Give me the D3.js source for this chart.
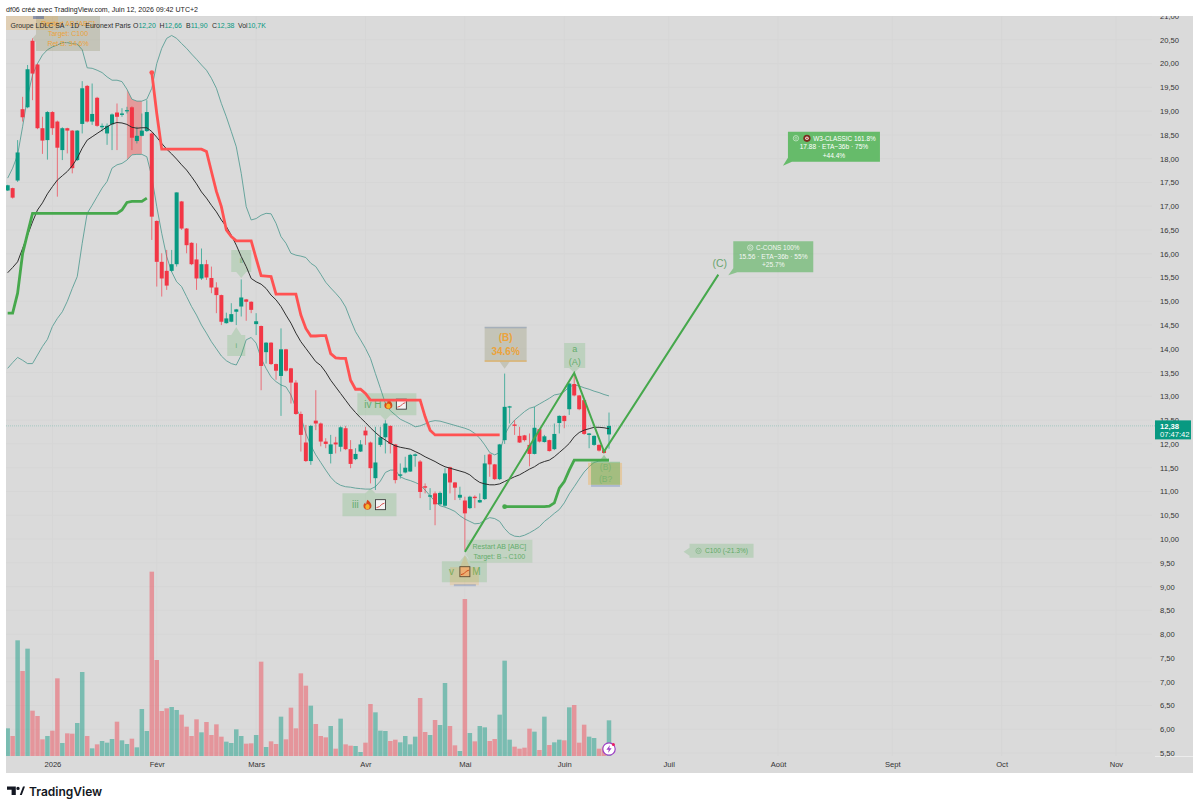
<!DOCTYPE html>
<html>
<head>
<meta charset="utf-8">
<title>Groupe LDLC SA</title>
<script src="https://d3js.org/d3.v7.min.js"></script>
<style>
	body{margin:0;background:#fff;}
	text{font-family:"Liberation Sans",sans-serif;}
	.axis path,.axis line{display:none;}
	.axis text{font-family:"Liberation Sans",sans-serif;font-size:7.6px;fill:#333;}
</style>
</head>
<body>
<script>
// daily bars, one entry per trading day, left to right
var opens = [17.33,17.38,17.54,19.04,19.08,20.48,19.98,18.64,18.39,18.98,18.78,18.18,18.64,18.59,17.97,18.73,19.53,18.78,19.28,18.66,18.53,18.72,18.97,18.92,19.00,19.08,18.37,18.48,18.58,18.53,
	16.69,15.83,15.64,15.64,15.78,17.10,16.53,16.23,15.88,15.48,15.78,15.49,15.29,15.13,14.54,14.57,14.78,14.89,15.04,14.99,14.52,14.48,13.93,14.13,13.68,13.43,13.99,13.59,13.29,12.63,
	12.03,11.64,12.49,12.43,12.05,11.79,12.03,11.94,12.33,11.89,11.68,11.84,12.28,12.03,11.28,11.98,12.14,12.38,11.99,11.33,11.40,11.42,11.75,11.63,11.11,10.89,10.96,10.73,10.70,11.51,
	11.19,10.87,10.81,10.65,10.89,10.77,10.84,11.78,11.57,11.26,12.08,12.77,12.41,12.17,12.18,11.98,11.79,12.31,12.04,12.08,11.89,12.44,12.59,12.73,13.26,13.02,12.92,12.19,11.98,11.98,11.87,12.20];
var highs = [17.45,17.39,18.39,19.30,19.97,20.53,20.00,18.88,19.00,19.00,18.80,18.66,18.65,18.60,18.60,19.63,19.55,19.58,19.30,18.74,18.74,18.95,19.16,19.06,19.09,19.10,18.67,18.95,19.23,18.55,
	16.70,16.01,16.08,16.08,17.29,17.11,16.54,16.24,16.22,16.11,15.87,15.73,15.40,15.14,14.76,14.96,14.84,15.46,15.05,15.00,14.75,14.49,14.14,14.14,13.69,14.43,14.00,13.60,13.34,12.68,
	12.40,12.40,13.13,12.45,12.12,12.19,12.15,12.37,12.38,12.08,11.91,12.08,12.36,12.05,12.36,12.36,12.50,12.39,12.00,11.59,11.73,11.79,11.80,11.66,11.17,11.07,11.00,11.00,11.49,11.52,
	11.20,11.10,10.89,10.91,10.92,10.96,11.77,11.80,11.58,12.00,13.48,12.80,12.50,12.36,12.19,12.22,12.78,12.32,12.19,12.09,12.43,12.60,12.60,13.28,13.45,13.03,12.93,12.23,12.18,11.99,11.88,12.66];
var lows = [17.32,17.16,17.51,18.78,19.06,19.23,18.62,18.10,17.98,18.50,17.20,17.97,18.11,17.69,17.95,18.53,18.76,18.71,18.67,18.57,18.29,18.18,18.18,18.88,18.95,18.18,18.32,18.47,18.56,16.29,
	15.31,15.10,15.24,15.62,15.73,16.50,16.01,15.76,15.24,15.45,15.45,15.17,14.75,14.50,14.53,14.56,14.50,14.68,14.59,14.75,14.29,13.13,13.69,13.66,13.35,12.59,13.52,12.85,12.61,11.84,
	11.62,11.56,12.29,11.95,11.91,11.59,11.80,11.84,11.87,11.49,11.66,11.83,11.98,11.17,11.03,11.94,11.80,11.80,11.17,11.27,11.38,11.41,11.52,10.86,10.96,10.61,10.29,10.71,10.68,10.96,
	10.82,10.82,9.77,10.63,10.65,10.76,10.82,11.31,11.24,11.24,12.00,12.43,12.19,12.02,12.05,11.53,11.78,12.03,12.03,11.84,11.87,12.22,12.33,12.61,13.00,12.71,12.19,11.91,11.96,11.84,11.80,11.90];
var closes = [17.44,17.18,18.13,18.87,19.88,19.79,18.64,18.38,18.98,18.64,18.23,18.64,18.59,17.80,18.59,19.48,18.78,18.94,18.69,18.69,18.69,18.93,18.88,18.95,19.02,18.44,18.48,18.59,18.98,16.78,
	15.83,15.48,15.33,15.78,17.29,16.53,16.18,15.78,15.48,15.78,15.50,15.29,15.13,14.57,14.64,14.73,14.83,15.08,14.99,14.82,14.58,13.64,14.13,13.68,13.54,13.99,13.54,13.29,12.63,12.19,
	11.64,12.38,12.43,12.05,12.00,11.99,11.99,12.35,11.89,11.58,11.79,11.99,12.18,11.49,11.61,12.14,12.43,12.00,11.24,11.36,11.50,11.77,11.78,10.99,11.08,10.92,10.73,10.97,11.38,11.19,
	11.08,10.93,10.54,10.89,10.86,10.82,11.59,11.57,11.26,11.99,12.78,12.79,12.38,12.03,12.08,11.79,12.34,12.05,12.16,11.85,12.21,12.59,12.48,13.27,13.02,12.73,12.21,12.22,12.17,11.86,11.81,12.38];
// volume in thousands
var volumes = [8.3,6.0,34.7,25.5,32.2,13.6,12.0,5.0,6.0,7.6,23.3,3.9,6.8,6.7,9.9,25.2,6.0,2.3,3.5,4.5,4.0,5.1,10.3,4.7,3.6,5.2,2.6,14.1,7.5,55.3,
	28.8,13.5,14.3,14.7,13.8,12.4,8.8,6.0,11.0,7.1,10.2,6.3,9.5,5.8,4.3,3.9,8.0,6.0,3.7,3.8,6.3,28.3,2.7,4.4,3.6,11.8,5.0,14.5,8.3,24.8,
	21.1,15.1,9.6,6.0,5.6,9.0,2.2,11.2,3.5,3.1,3.0,1.2,4.0,15.6,13.1,7.6,7.5,4.5,4.9,4.1,6.0,3.5,5.8,17.4,7.2,6.3,10.8,9.3,21.9,9.0,
	3.2,1.5,47.1,6.9,4.4,9.0,8.6,4.5,5.1,12.4,28.6,4.9,2.8,2.2,2.5,8.2,7.3,1.8,11.8,3.3,4.1,4.9,4.7,14.6,15.3,4.0,9.4,5.8,5.4,2.2,2.8,10.7];
// bollinger bands
var bandUpper = [17.59,17.80,18.08,18.67,19.30,19.76,20.00,20.18,20.29,20.35,20.39,20.44,20.44,20.42,20.41,20.29,19.91,19.90,19.86,19.81,19.72,19.65,19.65,19.62,19.46,19.25,19.21,19.21,19.25,19.48,
	20.00,20.32,20.53,20.59,20.53,20.42,20.32,20.20,20.09,19.97,19.86,19.69,19.48,19.16,18.88,18.57,18.25,17.69,16.99,16.71,16.74,16.81,16.85,16.84,16.64,16.36,16.22,16.01,15.97,15.95,
	15.92,15.80,15.73,15.57,15.40,15.28,15.17,15.05,14.88,14.61,14.36,14.19,14.01,13.80,13.48,13.17,12.85,12.70,12.61,12.52,12.47,12.42,12.36,12.38,12.42,12.47,12.49,12.48,12.45,12.42,
	12.39,12.36,12.33,12.29,12.22,12.12,11.98,11.82,11.77,11.82,12.19,12.38,12.50,12.59,12.68,12.75,12.78,12.84,12.90,12.96,13.03,13.05,13.10,13.20,13.24,13.22,13.18,13.15,13.11,13.08,13.04,13.01];
var bandLower = [13.59,13.71,13.82,13.76,13.69,13.69,13.87,14.05,14.20,14.47,14.64,14.78,15.00,15.27,15.52,16.22,16.85,17.02,17.20,17.38,17.52,17.80,17.87,17.90,17.97,18.08,18.09,18.09,18.04,17.62,
	16.99,16.43,15.94,15.62,15.41,15.31,15.10,14.89,14.71,14.50,14.33,14.15,14.00,13.85,13.75,13.69,13.66,13.87,14.19,14.24,14.12,13.80,13.59,13.41,13.31,13.24,13.20,13.03,12.75,12.57,
	12.22,11.97,11.77,11.61,11.45,11.30,11.19,11.13,11.10,11.09,11.07,11.06,11.05,11.05,11.10,11.22,11.40,11.45,11.45,11.31,11.26,11.23,11.19,11.14,11.03,10.91,10.79,10.70,10.67,10.63,
	10.58,10.49,10.42,10.37,10.32,10.33,10.40,10.45,10.43,10.37,10.22,10.11,10.06,10.05,10.08,10.13,10.19,10.26,10.37,10.45,10.54,10.62,10.76,10.95,11.10,11.26,11.41,11.52,11.61,11.64,11.66,11.68];
var bandBasis = [15.60,15.71,15.83,16.11,16.39,16.67,16.92,17.07,17.26,17.41,17.55,17.64,17.73,17.85,18.01,18.22,18.39,18.46,18.53,18.60,18.67,18.73,18.76,18.75,18.72,18.66,18.64,18.65,18.65,18.57,
	18.45,18.32,18.20,18.10,17.99,17.87,17.76,17.62,17.47,17.30,17.17,17.02,16.88,16.71,16.57,16.39,16.18,15.94,15.73,15.48,15.41,15.36,15.27,15.13,15.03,14.89,14.71,14.54,14.33,14.15,
	14.01,13.87,13.73,13.65,13.51,13.34,13.20,13.06,12.92,12.78,12.66,12.55,12.45,12.34,12.24,12.15,12.08,12.01,11.96,11.93,11.91,11.89,11.84,11.79,11.73,11.68,11.63,11.57,11.52,11.49,
	11.46,11.43,11.40,11.35,11.26,11.19,11.16,11.14,11.14,11.16,11.21,11.26,11.31,11.35,11.41,11.47,11.52,11.59,11.63,11.66,11.73,11.82,11.91,12.01,12.15,12.24,12.29,12.32,12.35,12.35,12.34,12.32];
// trailing stops: red runs from bar 29, first green from bar 0, second green from bar 100
var stopRedFirst = 29;
var stopRed = [19.81,18.95,18.20,18.20,18.20,18.20,18.20,18.20,18.20,18.20,18.20,18.15,17.73,17.31,16.99,16.50,16.36,16.27,16.27,16.27,16.27,15.90,15.54,15.53,15.52,15.15,15.15,15.15,15.15,15.15,
	14.71,14.43,14.27,14.27,14.28,14.28,13.90,13.81,13.80,13.80,13.34,13.15,13.15,13.06,12.92,12.92,12.92,12.92,12.92,12.92,12.92,12.92,12.92,12.92,12.92,12.57,12.29,12.19,12.19,12.19,
	12.19,12.19,12.19,12.19,12.19,12.19,12.19,12.19,12.19,12.19,12.19];
var stopGreenA = [14.75,14.75,15.17,16.00,16.43,16.85,16.85,16.85,16.85,16.85,16.85,16.85,16.85,16.85,16.85,16.85,16.85,16.85,16.85,16.85,16.85,16.85,16.85,16.92,17.08,17.10,17.10,17.10,17.17];
var stopGreenBFirst = 100;
var stopGreenB = [10.68,10.68,10.68,10.68,10.68,10.68,10.68,10.68,10.68,10.69,10.76,11.07,11.21,11.45,11.66,11.66,11.66,11.66,11.66,11.66,11.66,11.66];
// elliott wave leg
var waveBars = [92,114,120,143];
var wavePrices = [9.73,13.49,11.84,15.56];
// axes
var priceTicks = d3.range(5.5, 21.01, 0.5);
var timeBars = [9,30,50,72,92,112,133,155,178,200,223];
var timeLabels = ["2026","Févr","Mars","Avr","Mai","Juin","Juil","Août","Sept","Oct","Nov"];
var lastPrice = 12.38;

var width = 1200, height = 809;
var plotL = 6, plotR = 1193, plotT = 16, plotB = 773, axisY = 756, scaleX = 1152;
var green = "#089981", red = "#F23645";

var x = d3.scaleLinear().domain([0,121]).range([7.67,609]);
var y = d3.scaleLinear().domain([5.5,21]).range([753,16]);
var v = d3.scaleLinear().domain([0,60]).range([axisY,556]);
var comma = function(p){return d3.format(".2f")(p).replace(".",",");};

var svg = d3.select("body").append("svg").attr("width",width).attr("height",height).style("display","block");
svg.append("defs").append("clipPath").attr("id","plot").append("rect")
	.attr("x",plotL).attr("y",plotT).attr("width",plotR-plotL).attr("height",plotB-plotT);

svg.append("rect").attr("x",plotL).attr("y",plotT).attr("width",plotR-plotL).attr("height",plotB-plotT).attr("fill","#dadada");
var chart = svg.append("g").attr("clip-path","url(#plot)");

// grid
chart.append("g").selectAll("line").data(priceTicks).enter().append("line")
	.attr("x1",plotL).attr("x2",scaleX).attr("y1",function(d){return y(d);}).attr("y2",function(d){return y(d);})
	.attr("stroke","#d6d6d6");
chart.append("g").selectAll("line").data(timeBars).enter().append("line")
	.attr("x1",function(d){return x(d);}).attr("x2",function(d){return x(d);}).attr("y1",plotT).attr("y2",axisY)
	.attr("stroke","#d6d6d6");
chart.append("line").attr("x1",scaleX+3).attr("x2",plotR).attr("y1",axisY+.5).attr("y2",axisY+.5).attr("stroke","#ececec");

// volume
chart.append("g").selectAll("rect").data(volumes).enter().append("rect")
	.attr("x",function(d,i){return x(i)-2.25;}).attr("width",4.5)
	.attr("y",function(d){return v(d);}).attr("height",function(d){return axisY-v(d);})
	.attr("fill",function(d,i){return closes[i]>=opens[i] ? "rgba(8,153,129,.46)" : "rgba(242,54,69,.42)";});

// last price line
chart.append("line").attr("x1",plotL).attr("x2",1155).attr("y1",y(lastPrice)).attr("y2",y(lastPrice))
	.attr("stroke","#089981").attr("stroke-opacity",.25).attr("stroke-dasharray","1 1");

// red block between the bands
var blockBars = [24,25,26,27];
chart.append("path").attr("d",d3.area().x(function(d){return x(d);})
		.y0(function(d){return y(bandLower[d]);}).y1(function(d){return y(bandUpper[d]);})(blockBars))
	.attr("fill","rgba(242,70,70,.42)");

// bands
function seriesLine(values,first){
	return d3.line().x(function(d,i){return x(first+i);}).y(function(d){return y(d);})(values);
}
[bandUpper,bandLower].forEach(function(s){
	chart.append("path").attr("d",seriesLine(s,0)).attr("fill","none").attr("stroke","#5b9f96").attr("stroke-width",1).attr("stroke-opacity",.9);
});

// labels sit under the candles and lines
function balloon(bar,price,dir,left,top,w,h,fill){
	// box is given relative to the tip
	var tx = x(bar), ty = y(price), g = chart.append("g");
	var bx = tx+left, by = ty+top;
	var pts;
	if(dir=="down") pts = [[bx,by],[bx+w,by],[bx+w,by+h],[tx+5,by+h],[tx,ty],[tx-5,by+h],[bx,by+h]];
	else if(dir=="up") pts = [[bx,by],[tx-5,by],[tx,ty],[tx+5,by],[bx+w,by],[bx+w,by+h],[bx,by+h]];
	else if(dir=="left") pts = [[bx,by],[bx+w,by],[bx+w,by+h],[bx,by+h],[bx,ty+4],[tx,ty],[bx,ty-4]];
	else pts = [[bx,by],[bx+w,by],[bx+w,by+h],[bx+4,by+h],[tx,ty],[bx,by+h-4]];
	g.append("polygon").attr("points",pts.join(" ")).attr("fill",fill);
	return {x:bx,y:by,w:w,h:h,g:g};
}
function label(b,lines,color,size,weight,dx){
	var lh = size*1.42, y0 = b.y+b.h/2-(lines.length-1)*lh/2;
	lines.forEach(function(t,i){
		b.g.append("text").text(t).attr("x",b.x+b.w/2+(dx||0)).attr("y",y0+i*lh).attr("text-anchor","middle")
			.attr("dominant-baseline","central").attr("font-size",size).attr("font-weight",weight||"normal").attr("fill",color);
	});
}
function fire(g,cx,cy){
	g.append("path").attr("fill","#d8491c")
		.attr("d","M"+cx+","+(cy-5)+"c2.5,2 4,4 4,6.2a4,3.8 0 0 1-8,0c0-1.6 .9-2.6 1.7-3.4c.1,1 .5,1.5 1,1.7c.2-1.8 .4-3 1.3-4.5z");
	g.append("ellipse").attr("cx",cx).attr("cy",cy+2).attr("rx",2.2).attr("ry",2.6).attr("fill","#f5b52a");
}
function chartIcon(g,cx,cy,warm){
	g.append("rect").attr("x",cx-5).attr("y",cy-5).attr("width",10).attr("height",10).attr("fill",warm?"#e8b48a":"#f4f4f4").attr("stroke","#3c3c3c").attr("stroke-width",.9);
	g.append("path").attr("d","M"+(cx-4)+","+(cy+3)+"l3,-1l2.5,-2.5l2.5,-1").attr("fill","none").attr("stroke",warm?"#c43c20":"#d9534f").attr("stroke-width",1);
}
function ring(g,cx,cy,color){
	g.append("circle").attr("cx",cx).attr("cy",cy).attr("r",2.7).attr("fill","none").attr("stroke",color).attr("stroke-width",.7);
	g.append("circle").attr("cx",cx).attr("cy",cy).attr("r",1.1).attr("fill","none").attr("stroke",color).attr("stroke-width",.5);
}
var soft = "rgba(76,175,80,.2)", softText = "#64ad6c", orangeSoft = "rgba(255,152,0,.17)", orangeText = "#eba33c", drab = "rgba(110,110,50,.2)";

// top left
var tl = balloon(5,20.53,"left",3.5,-22.4,64,35,drab);
chart.append("rect").attr("x",plotL).attr("y",plotT).attr("width",52).attr("height",14).attr("fill",orangeSoft);
chart.append("rect").attr("x",33).attr("y",plotT).attr("width",11).attr("height",3).attr("fill","rgba(60,90,160,.5)");
label(tl,["Restart AB [ABC]","Target: C100","Ret B: 34.6%"],orangeText,7);

label(balloon(47,15.49,"down",-10,-28,20,22,soft),["ii"],softText,7);
label(balloon(46,14.46,"up",-9,8,18,21,soft),["i"],softText,7);

var iv = balloon(76,12.50,"down",-28,-27,59,22,soft);
label(iv,["iv H"],softText,10,"normal",-14);
fire(iv.g,iv.x+31,iv.y+11); chartIcon(iv.g,iv.x+44,iv.y+11);

var iii = balloon(73,11.07,"up",-28,5,54,23,soft);
label(iii,["iii"],softText,10,"normal",-14);
fire(iii.g,iii.x+25,iii.y+11.5); chartIcon(iii.g,iii.x+38,iii.y+11.5);

var vv = balloon(92,9.66,"up",-23,6,45,21,soft);
label(vv,["v"],softText,10,"normal",-13);
label(vv,["M"],softText,10,"normal",12);
balloon(92,9.66,"up",-15,12,29,18,orangeSoft);
chart.append("rect").attr("x",x(92)-11).attr("y",y(9.66)+29).attr("width",22).attr("height",2).attr("fill","rgba(70,110,190,.3)");
chartIcon(vv.g,x(92),y(9.66)+16.5,true);

var restart = balloon(92,9.73,"box",1.5,-12,66,23,"rgba(76,175,80,.17)");
label(restart,["Restart AB [ABC]","Target: B→C100"],softText,7);

var bTop = balloon(100,13.58,"down",-20,-42,42,35,drab);
chart.append("rect").attr("x",x(100)-20).attr("y",y(13.58)-42).attr("width",42).attr("height",1.5).attr("fill","rgba(70,110,190,.25)");
chart.append("rect").attr("x",x(100)-20).attr("y",y(13.58)-8.5).attr("width",42).attr("height",1.5).attr("fill","rgba(255,152,0,.4)");
label(bTop,["(B)","34.6%"],orangeText,10,"bold");

var aTop = balloon(114,13.49,"down",-10,-30,21,25,soft);
label(aTop,["a","(A)"],softText,9);

chart.append("rect").attr("x",x(120)-16).attr("y",y(11.77)+8).attr("width",34).attr("height",22).attr("fill","rgba(255,152,0,.25)");
var bLow = balloon(120,11.77,"up",-13,7,29,23,"rgba(76,175,80,.42)");
chart.append("rect").attr("x",x(120)-13).attr("y",y(11.77)+30).attr("width",29).attr("height",2).attr("fill","rgba(70,110,190,.3)");
label(bLow,["(B)","(B?"],"#7cb470",8.5);

// candles
var candles = chart.append("g").selectAll("g").data(d3.range(opens.length)).enter().append("g");
candles.append("line")
	.attr("x1",function(i){return x(i);}).attr("x2",function(i){return x(i);})
	.attr("y1",function(i){return y(highs[i]);}).attr("y2",function(i){return y(lows[i]);})
	.attr("stroke",function(i){return closes[i]>=opens[i] ? green : red;}).attr("stroke-opacity",.65);
candles.append("rect")
	.attr("x",function(i){return x(i)-2;}).attr("width",4)
	.attr("y",function(i){return y(Math.max(opens[i],closes[i]));})
	.attr("height",function(i){return Math.max(1.2,Math.abs(y(opens[i])-y(closes[i])));})
	.attr("fill",function(i){return closes[i]>=opens[i] ? green : red;});

// basis and stops
chart.append("path").attr("d",seriesLine(bandBasis,0)).attr("fill","none").attr("stroke","#2e2e2e").attr("stroke-width",1);
chart.append("path").attr("d",seriesLine(stopRed,stopRedFirst)).attr("fill","none").attr("stroke","#FF5252").attr("stroke-width",2.8);
chart.append("circle").attr("cx",x(stopRedFirst)).attr("cy",y(stopRed[0])).attr("r",2.4).attr("fill","#FF5252");
chart.append("path").attr("d",seriesLine(stopGreenA,0)).attr("fill","none").attr("stroke","#46a84c").attr("stroke-width",2.8);
chart.append("path").attr("d",seriesLine(stopGreenB,stopGreenBFirst)).attr("fill","none").attr("stroke","#46a84c").attr("stroke-width",2.8);
chart.append("circle").attr("cx",x(stopGreenBFirst)).attr("cy",y(stopGreenB[0])).attr("r",2.4).attr("fill","#46a84c");

// wave
chart.append("path").attr("d",d3.line().x(function(d){return x(d);}).y(function(d,i){return y(wavePrices[i]);})(waveBars))
	.attr("fill","none").attr("stroke","#46a84c").attr("stroke-width",2);
chart.append("text").text("(C)").attr("x",x(143)+1.5).attr("y",y(15.56)-8).attr("text-anchor","middle")
	.attr("font-size",10.5).attr("fill","#6aa56f");

// targets
function targetLines(b,first,firstDx,rest,color){
	label(b,[first],color,6.4,"normal",firstDx);
	b.g.selectAll("text").attr("y",b.y+6.5);
	rest.forEach(function(t,i){
		b.g.append("text").text(t).attr("x",b.x+b.w/2).attr("y",b.y+15+i*8.5).attr("text-anchor","middle")
			.attr("dominant-baseline","central").attr("font-size",6.6).attr("fill",color);
	});
}
var w3 = balloon(156,17.85,"box",5,-34,92,30,"#66BB6A");
targetLines(w3,"W3-CLASSIC 161.8%",10.5,["17.88 · ETA~36b · 75%","+44.4%"],"#ffffff");
ring(w3.g,w3.x+8,w3.y+6.5,"#d6ecd7");
w3.g.append("circle").attr("cx",w3.x+19).attr("cy",w3.y+6.5).attr("r",3.6).attr("fill","#7a2b20");
w3.g.append("circle").attr("cx",w3.x+19).attr("cy",w3.y+6.5).attr("r",1.8).attr("fill","#e8e4e0");
w3.g.append("circle").attr("cx",w3.x+19).attr("cy",w3.y+6.5).attr("r",.9).attr("fill","#d33a2c");

var ccons = balloon(145,15.55,"box",5,-34,80,31,"rgba(76,175,80,.55)");
targetLines(ccons,"C-CONS 100%",4.5,["15.56 · ETA~36b · 55%","+25.7%"],"#f4f7f4");
ring(ccons.g,ccons.x+17,ccons.y+6.5,"#e6efe6");

var c100 = balloon(136,9.73,"left",6,-8,64,14,"rgba(76,175,80,.22)");
label(c100,["C100 (-21.3%)"],"#5fa866",6.6,"normal",5);
ring(c100.g,c100.x+9,c100.y+7,"#7fb384");

// axes
var yAxis = chart.append("g").attr("class","axis").attr("transform","translate(1160,0)")
	.call(d3.axisRight(y).tickValues(priceTicks).tickSize(0).tickPadding(0).tickFormat(comma));
var xAxis = chart.append("g").attr("class","axis").attr("transform","translate(0,"+(axisY+6)+")")
	.call(d3.axisBottom(x).tickValues(timeBars).tickSize(0).tickPadding(0).tickFormat(function(d,i){return timeLabels[i];}));

// last price tag
svg.append("rect").attr("x",1155).attr("y",y(lastPrice)-5.5).attr("width",36).attr("height",19).attr("fill",green);
svg.append("text").text(comma(lastPrice)).attr("x",1160).attr("y",y(lastPrice)+.5).attr("dominant-baseline","central").attr("font-size",7.6).attr("font-weight","bold").attr("fill","#fff");
svg.append("text").text("07:47:42").attr("x",1160).attr("y",y(lastPrice)+8.5).attr("dominant-baseline","central").attr("font-size",7.6).attr("fill","#fff");

// lightning badge
var badge = svg.append("g").attr("transform","translate("+x(121)+",749)");
badge.append("circle").attr("r",6.2).attr("fill","#fff").attr("stroke","#9c3fc4").attr("stroke-width",1.2);
badge.append("path").attr("d","M1,-4L-2.6,.8H-.2L-1,4L2.6,-.8H.2z").attr("fill","#9c3fc4");
badge.append("circle").attr("cx",4.4).attr("cy",-4.4).attr("r",1.5).attr("fill","#e91e63");

// header and legend
svg.append("text").text("df06 créé avec TradingView.com, Juin 12, 2026 09:42 UTC+2").attr("x",6).attr("y",11.5).attr("font-size",7.05).attr("fill","#222");
var legend = svg.append("text").attr("x",10.5).attr("y",27.5).attr("font-size",6.95).attr("fill","#2c2c2c");
legend.append("tspan").text("Groupe LDLC SA · 1D · Euronext Paris");
[["O","12,20",133],["H","12,66",159.5],["B","11,90",186],["C","12,38",212],["Vol","10,7K",238]].forEach(function(p){
	legend.append("tspan").text(p[0]).attr("x",p[2]);
	legend.append("tspan").text(p[1]).attr("fill",green);
});

// logo
var logo = svg.append("g").attr("fill","#131722");
logo.append("path").attr("d","M7,786.5h8.8v8.5h-4.2v-5.2h-4.6zM19.8,795l3.2-8.5h2l-3.2,8.5zM16.3,788.4a1.7,1.7 0 1 1 3.4,0a1.7,1.7 0 1 1-3.4,0z");
logo.append("text").text("TradingView").attr("x",29).attr("y",795.5).attr("font-size",12).attr("font-weight",600).style("font-family","Inter");
</script>
</body>
</html>
